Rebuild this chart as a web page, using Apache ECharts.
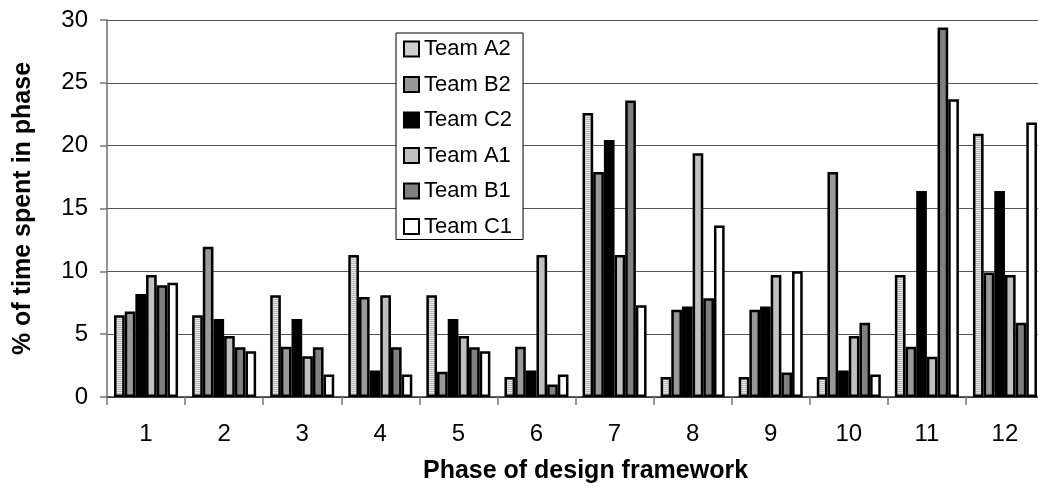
<!DOCTYPE html>
<html>
<head>
<meta charset="utf-8">
<script src="https://cdn.jsdelivr.net/npm/echarts@6/dist/echarts.min.js"></script>
<style>
  html, body { margin: 0; padding: 0; background: #fff; }
  #chart { width: 1038px; height: 488px; }
</style>
</head>
<body>
<div id="chart"></div>
<script>
// Phases of the design framework
const phases = ['1', '2', '3', '4', '5', '6', '7', '8', '9', '10', '11', '12'];
const yTicks = [0, 5, 10, 15, 20, 25, 30];

// % of time each team spent in each phase
const teamNames = ['Team A2', 'Team B2', 'Team C2', 'Team A1', 'Team B1', 'Team C1'];
const teamA2 = [6.5, 6.5, 8.1, 11.3, 8.1, 1.6, 22.6, 1.6, 1.6, 1.6, 9.7, 20.95];
const teamB2 = [6.8, 11.95, 4.0, 7.95, 2.0, 4.0, 17.9, 6.95, 6.95, 17.9, 4.0, 9.9];
const teamC2 = [8.2, 6.2, 6.2, 2.1, 6.2, 2.1, 20.45, 7.2, 7.2, 2.1, 16.4, 16.4];
const teamA1 = [9.7, 4.85, 3.25, 8.1, 4.85, 11.3, 11.3, 19.4, 9.7, 4.85, 3.2, 9.7];
const teamB1 = [8.9, 3.95, 3.95, 3.95, 3.95, 1.0, 23.6, 7.85, 1.95, 5.9, 29.4, 5.9];
const teamC1 = [9.1, 3.65, 1.8, 1.8, 3.65, 1.8, 7.3, 13.65, 10.0, 1.8, 23.7, 21.85];
const teamValues = [teamA2, teamB2, teamC2, teamA1, teamB1, teamC1];

// Fine horizontal hatch used for Team A2
function stripePattern() {
  const c = document.createElement('canvas');
  c.width = 4; c.height = 2;
  const ctx = c.getContext('2d');
  ctx.fillStyle = '#e4e4e4'; ctx.fillRect(0, 0, 4, 1);
  ctx.fillStyle = '#bdbdbd'; ctx.fillRect(0, 1, 4, 1);
  return { image: c, repeat: 'repeat' };
}

const fills = [stripePattern(), '#999999', '#000000', '#c0c0c0', '#808080', '#ffffff'];
const FONT = "'Liberation Sans', Arial, sans-serif";

const chart = echarts.init(document.getElementById('chart'), null, { renderer: 'canvas' });

chart.setOption({
  animation: false,
  backgroundColor: '#ffffff',
  grid: { left: 107, right: -6, top: 20, bottom: 91, containLabel: false, outerBoundsMode: 'none' },
  legend: {
    orient: 'vertical',
    left: 396, top: 33,
    padding: [5, 11, 2, 7],
    itemGap: 13.5,
    itemWidth: 15, itemHeight: 15,
    icon: 'rect',
    backgroundColor: '#ffffff',
    borderColor: '#000000', borderWidth: 1,
    textStyle: { fontFamily: FONT, fontSize: 22, color: '#000', lineHeight: 22 },
    data: teamNames
  },
  xAxis: {
    type: 'category',
    data: phases,
    name: 'Phase of design framework',
    nameLocation: 'middle',
    nameGap: 62,
    nameTextStyle: { fontFamily: FONT, fontSize: 25, fontWeight: 'bold', color: '#000', padding: [0, 0, 0, 20] },
    axisLine: { lineStyle: { color: '#333', width: 1.5 } },
    axisTick: { show: true, length: 8, lineStyle: { color: '#777', width: 1.5 } },
    axisLabel: { fontFamily: FONT, fontSize: 24, color: '#000', margin: 25 }
  },
  yAxis: {
    type: 'value',
    min: 0, max: 30, interval: 5,
    name: '% of time spent in phase',
    nameLocation: 'middle',
    nameGap: 71,
    nameTextStyle: { fontFamily: FONT, fontSize: 25, fontWeight: 'bold', color: '#000' },
    axisLine: { show: true, lineStyle: { color: '#707070', width: 1.5 } },
    axisTick: { show: true, length: 7, lineStyle: { color: '#777', width: 1.5 } },
    axisLabel: {
      fontFamily: FONT, fontSize: 24, color: '#000', margin: 19,
      formatter: v => (yTicks.includes(v) ? String(v) : '')
    },
    splitLine: { show: true, lineStyle: { color: '#555', width: 1 } }
  },
  series: teamNames.map((name, i) => ({
    name,
    type: 'bar',
    data: teamValues[i],
    barGap: '0%',
    barCategoryGap: '18%',
    itemStyle: { color: fills[i], borderColor: '#000', borderWidth: 2.5 }
  }))
});
</script>
</body>
</html>
